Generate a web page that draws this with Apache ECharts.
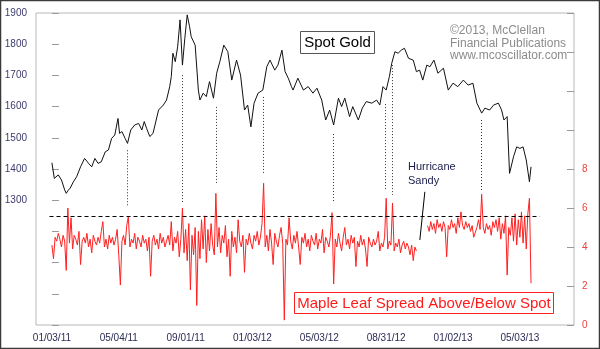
<!DOCTYPE html>
<html><head><meta charset="utf-8">
<script src="https://cdn.jsdelivr.net/npm/echarts@6/dist/echarts.min.js"></script>
<style>html,body{margin:0;padding:0;background:#fff}#c{width:600px;height:349px}</style>
</head><body><div id="c"></div>
<script>
// x = trading-day index from 01/03/11
const xTickDays = [0, 84, 168, 252, 336, 420, 504, 588];
const xTickLabels = ['01/03/11','05/04/11','09/01/11','01/03/12','05/03/12','08/31/12','01/02/13','05/03/13'];

const goldDay = [0,3,5,8,12,16,18,20,23,27,31,36,41,44,46,50,54,58,62,67,71,75,79,83,85,88,92,95,99,104,109,113,116,119,123,127,134,140,144,148,150,152,155,158,161,164,167,170,173,175,180,184,186,190,194,198,203,207,211,216,221,226,232,237,242,246,250,254,259,265,270,274,280,284,289,293,297,299,301,303,305,309,316,322,328,333,339,344,349,354,360,364,368,374,378,385,390,395,402,408,412,416,420,424,427,431,435,439,443,448,454,458,462,466,471,475,480,485,492,498,504,510,517,523,529,534,540,544,550,555,561,565,568,572,575,580,584,588,592,596,600,602];
const goldPrice = [1420,1370,1376,1381,1365,1333,1322,1330,1339,1359,1375,1407,1434,1425,1418,1407,1434,1418,1423,1455,1461,1498,1509,1562,1514,1520,1498,1482,1525,1541,1546,1525,1552,1530,1504,1514,1589,1605,1621,1664,1696,1771,1744,1792,1878,1733,1819,1894,1856,1824,1797,1653,1621,1643,1632,1680,1627,1707,1744,1797,1776,1685,1749,1701,1589,1605,1535,1611,1643,1653,1728,1749,1717,1733,1781,1712,1691,1696,1664,1653,1648,1691,1653,1664,1643,1659,1621,1557,1589,1541,1627,1600,1627,1568,1600,1557,1595,1616,1611,1621,1605,1664,1653,1696,1739,1776,1771,1781,1787,1755,1749,1712,1717,1685,1733,1728,1749,1707,1723,1653,1675,1664,1685,1669,1675,1611,1579,1595,1589,1605,1611,1589,1557,1568,1386,1439,1471,1466,1471,1429,1359,1407];

// spread sampled every 2 trading days, starting at day 0
const spreadStep = 2;
const spreadValues = [
4.1,3.4,4.5,4.3,4.7,4.4,4.0,4.6,4.3,2.8,
6.0,4.2,5.5,3.9,4.6,4.4,4.1,4.8,3.1,4.3,
4.5,4.2,4.7,4.0,4.4,3.7,4.6,4.3,4.1,4.5,
4.2,4.8,5.3,4.0,4.4,3.9,4.6,4.2,4.5,4.1,
4.4,4.9,3.6,2.05,4.3,4.6,4.1,5.1,5.55,4.0,
4.4,4.2,4.7,3.9,4.5,4.3,4.0,4.6,4.2,4.4,
3.8,4.5,2.5,4.3,4.6,4.1,4.4,3.9,4.7,4.2,
4.5,4.0,4.3,4.6,4.1,5.3,3.8,4.5,4.2,4.8,
3.5,4.4,6.0,3.7,4.9,3.3,5.2,1.8,4.6,3.6,
5.0,1.0,4.8,3.4,5.4,3.9,5.6,3.2,4.9,3.8,
5.2,4.1,3.6,6.75,4.0,5.0,3.7,4.6,4.2,5.1,
3.5,4.4,2.5,4.8,4.0,4.5,3.7,5.4,4.3,4.0,
4.6,2.7,4.4,4.1,4.7,4.2,3.9,4.6,4.3,4.8,
4.1,4.5,5.2,7.27,4.0,4.6,3.8,4.9,4.2,3.1,
4.7,4.3,4.0,4.6,5.0,4.2,0.25,4.4,4.1,5.5,
4.3,3.9,4.6,4.2,4.8,4.0,3.1,4.5,4.2,4.7,
4.0,4.4,3.8,4.6,4.3,4.1,4.7,3.9,4.4,4.2,
4.9,3.7,4.5,4.3,4.0,4.6,5.76,2.1,4.4,4.0,
4.7,4.2,3.8,4.5,5.0,4.1,4.4,3.9,4.6,4.2,
4.5,3.0,4.3,4.0,4.6,4.1,4.4,3.9,3.0,4.5,
4.2,4.0,4.4,4.1,4.3,4.8,3.8,4.2,4.0,4.5,
6.5,3.9,4.3,4.1,6.25,3.8,4.2,4.0,4.4,3.7,
4.1,4.3,3.9,4.2,4.0,3.6,4.1,3.3,4.0,3.8,
null,null,null,null,null,null,5.1,4.8,5.3,4.9,
5.2,4.7,5.4,5.0,5.2,4.8,5.3,5.0,3.5,5.1,
4.9,5.4,5.0,5.2,4.7,5.5,5.0,5.8,5.1,4.9,
5.3,5.0,5.2,4.8,5.1,4.5,4.6,5.0,5.4,4.9,
6.7,5.0,4.7,5.2,4.9,5.1,4.6,5.3,5.0,5.4,
4.8,5.5,4.4,5.2,4.7,5.6,2.56,5.0,4.6,5.5,
4.3,5.7,4.1,5.4,4.5,5.8,4.2,5.6,3.9,5.7,
6.5,2.14];

// dotted connectors: [day, gold-axis top, gold-axis bottom]
const connectorDays = [95, 164, 206, 265, 353, 419, 428, 540];
const connectorTop = [1460, 1701, 1599, 1631, 1512, 1608, 1733, 1557];
const connectorBottom = [1282, 1294, 1355, 1387, 1291, 1333, 1317, 1326];
const spreadThreshold = 5.6;
const sandyPointer = [[468.6, 6.83], [462.3, 4.36]];

const goldTicksShown = 1300;   // left labels shown from here up
const spreadTicksShown = 8;    // right labels shown up to here

const FONT = "'Liberation Sans', Arial, sans-serif";
const chart = echarts.init(document.getElementById('c'), null, {renderer: 'canvas'});

const goldData = goldDay.map((d, i) => [d, goldPrice[i]]);
const spreadData = spreadValues.map((v, i) => [i * spreadStep, v]);

chart.setOption({
  animation: false,
  backgroundColor: '#ffffff',
  grid: {left: 36, right: 26, top: 13, bottom: 24, show: true, borderColor: '#b8b8b8', borderWidth: 1, backgroundColor: '#fff'},
  xAxis: {
    type: 'value', min: -20, max: 656,
    axisLine: {show: false}, axisTick: {show: false}, splitLine: {show: false},
    axisLabel: {
      customValues: xTickDays,
      formatter: v => { const k = xTickDays.indexOf(Math.round(v)); return k >= 0 ? xTickLabels[k] : ''; },
      color: '#2b2b55', fontSize: 10, fontFamily: FONT, margin: 8
    }
  },
  yAxis: [
    {
      type: 'value', min: 900, max: 1900, interval: 100, position: 'left',
      axisLine: {show: false}, splitLine: {show: false},
      axisTick: {show: true, inside: true, length: 7, lineStyle: {color: '#999'}},
      axisLabel: {formatter: v => v >= goldTicksShown ? String(v) : '', color: '#3b3b6e', fontSize: 10, fontFamily: FONT, margin: 9}
    },
    {
      type: 'value', min: 0, max: 16, interval: 2, position: 'right',
      axisLine: {show: false}, splitLine: {show: false},
      axisTick: {show: true, inside: true, length: 7, lineStyle: {color: '#999'}},
      axisLabel: {formatter: v => v <= spreadTicksShown ? String(v) : '', color: '#e8413c', fontSize: 10, fontFamily: FONT, margin: 8}
    }
  ],
  series: [
    {
      name: 'Spread', type: 'line', yAxisIndex: 1, data: spreadData, showSymbol: false,
      connectNulls: false, lineStyle: {color: '#ff2020', width: 1}, z: 2,
      markLine: {
        silent: true, symbol: 'none', label: {show: false}, animation: false,
        data: [
          [{coord: [-3, spreadThreshold], lineStyle: {color: '#000', width: 1, type: [4, 3]}}, {coord: [613, spreadThreshold]}],
          [{coord: sandyPointer[0], lineStyle: {color: '#000', width: 1, type: 'solid'}}, {coord: sandyPointer[1]}]
        ]
      }
    },
    {
      name: 'Gold', type: 'line', yAxisIndex: 0, data: goldData, showSymbol: false,
      lineStyle: {color: '#111', width: 1}, z: 3,
      markLine: {
        silent: true, symbol: 'none', label: {show: false}, animation: false,
        lineStyle: {color: '#333', width: 1, type: [1, 2]},
        data: connectorDays.map((d, i) => [{coord: [d, connectorTop[i]]}, {coord: [d, connectorBottom[i]]}])
      }
    }
  ],
  graphic: [
    {type: 'rect', z: 100, shape: {x: 0.5, y: 0.5, width: 599, height: 348}, style: {fill: 'none', stroke: '#3a3a3a', lineWidth: 1.5}},
    {type: 'rect', z: 100, shape: {x: 300.5, y: 31.5, width: 74, height: 22}, style: {fill: '#fff', stroke: '#555', lineWidth: 1}},
    {type: 'text', z: 101, x: 337.5, y: 42.5, style: {text: 'Spot Gold', fill: '#000', font: '15px ' + FONT, textAlign: 'center', textVerticalAlign: 'middle'}},
    {type: 'text', z: 101, x: 450, y: 31, style: {text: '©2013, McClellan', fill: '#8c8c8c', font: '12px ' + FONT, textVerticalAlign: 'middle'}},
    {type: 'text', z: 101, x: 450, y: 43.5, style: {text: 'Financial Publications', fill: '#8c8c8c', font: '12px ' + FONT, textVerticalAlign: 'middle'}},
    {type: 'text', z: 101, x: 450, y: 56, style: {text: 'www.mcoscillator.com', fill: '#8c8c8c', font: '12px ' + FONT, textVerticalAlign: 'middle'}},
    {type: 'text', z: 101, x: 408, y: 167, style: {text: 'Hurricane', fill: '#1c1c4c', font: '11px ' + FONT, textVerticalAlign: 'middle'}},
    {type: 'text', z: 101, x: 408, y: 180.5, style: {text: 'Sandy', fill: '#1c1c4c', font: '11px ' + FONT, textVerticalAlign: 'middle'}},
    {type: 'rect', z: 100, shape: {x: 294.5, y: 292.5, width: 259, height: 21}, style: {fill: '#fff', stroke: '#ff2020', lineWidth: 1}},
    {type: 'text', z: 101, x: 424, y: 303.5, style: {text: 'Maple Leaf Spread Above/Below Spot', fill: '#ff1a1a', font: '15px ' + FONT, textAlign: 'center', textVerticalAlign: 'middle'}}
  ]
});
</script></body></html>
